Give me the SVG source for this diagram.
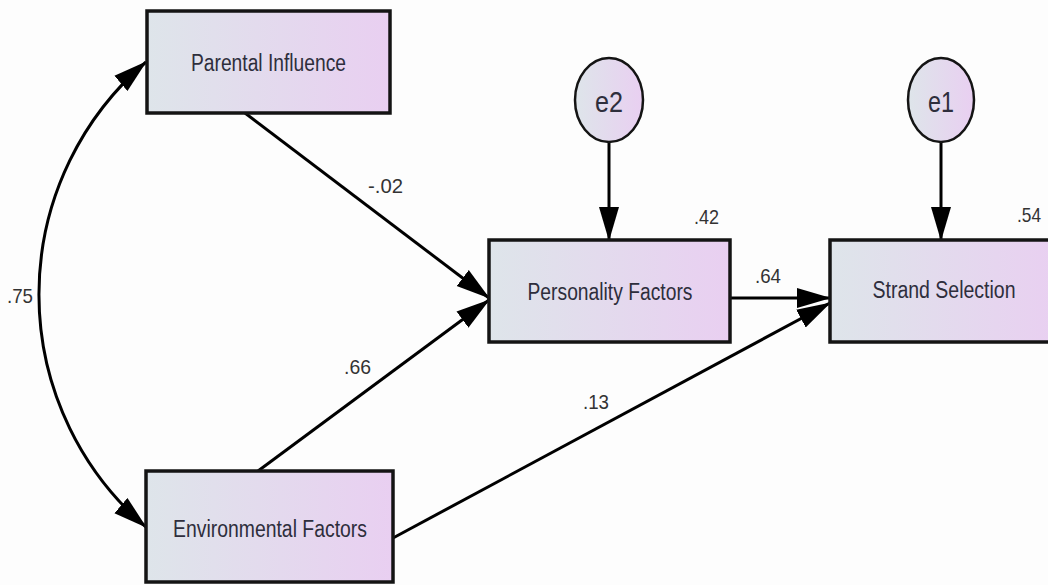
<svg xmlns="http://www.w3.org/2000/svg" width="1048" height="585" viewBox="0 0 1048 585">
  <defs>
    <linearGradient id="boxfill" x1="0" y1="0" x2="1" y2="0">
      <stop offset="0" stop-color="#dee5ea"/>
      <stop offset="1" stop-color="#e9cff1"/>
    </linearGradient>
    <marker id="arrow" markerUnits="userSpaceOnUse" markerWidth="34" markerHeight="22" refX="33" refY="11" orient="auto-start-reverse" viewBox="0 0 34 22">
      <path d="M0,1 L34,11 L0,21 z" fill="#000"/>
    </marker>
    <style>
      .box { fill: url(#boxfill); stroke: #141414; stroke-width: 3.5; }
      .err { fill: url(#boxfill); stroke: #141414; stroke-width: 2.5; }
      .node-text { font-family: "Liberation Sans", Arial, sans-serif; font-size: 23px; fill: #2e2e3c; text-anchor: middle; }
      .err-text { font-family: "Liberation Sans", Arial, sans-serif; font-size: 30px; fill: #2e2e3c; text-anchor: middle; }
      .label { font-family: "Liberation Sans", Arial, sans-serif; font-size: 21px; fill: #333; }
      .conn { fill: none; stroke: #000; stroke-width: 3; marker-end: url(#arrow); }
      .conn2 { fill: none; stroke: #000; stroke-width: 3; marker-end: url(#arrow); marker-start: url(#arrow); }
    </style>
  </defs>
  <rect width="1048" height="585" fill="#fdfdfd"/>

  <g id="connectors">
    <path class="conn2" d="M146,62 A306,306 0 0 0 146,527"/>
    <line class="conn" x1="245" y1="113" x2="489" y2="298"/>
    <line class="conn" x1="258" y1="471" x2="489" y2="300"/>
    <line class="conn" x1="730" y1="298" x2="830" y2="298"/>
    <line class="conn" x1="393" y1="538" x2="830" y2="303"/>
    <line class="conn" x1="609" y1="142" x2="609" y2="240"/>
    <line class="conn" x1="941" y1="142" x2="941" y2="240"/>
    <text class="label" x="7" y="303" textLength="26" lengthAdjust="spacingAndGlyphs">.75</text>
    <text class="label" x="368" y="193" textLength="35" lengthAdjust="spacingAndGlyphs">-.02</text>
    <text class="label" x="344" y="374" textLength="27" lengthAdjust="spacingAndGlyphs">.66</text>
    <text class="label" x="583" y="409" textLength="26" lengthAdjust="spacingAndGlyphs">.13</text>
    <text class="label" x="755" y="283" textLength="26" lengthAdjust="spacingAndGlyphs">.64</text>
  </g>

  <g id="parental-influence">
    <rect class="box" x="147" y="11" width="243" height="102"/>
    <text class="node-text" x="268.5" y="71" textLength="155" lengthAdjust="spacingAndGlyphs">Parental Influence</text>
  </g>

  <g id="environmental-factors">
    <rect class="box" x="146" y="471" width="247" height="111"/>
    <text class="node-text" x="270" y="537" textLength="194" lengthAdjust="spacingAndGlyphs">Environmental Factors</text>
  </g>

  <g id="personality-factors">
    <rect class="box" x="489" y="240" width="241" height="102"/>
    <text class="node-text" x="610" y="300" textLength="165" lengthAdjust="spacingAndGlyphs">Personality Factors</text>
    <text class="label" x="694" y="224" textLength="25" lengthAdjust="spacingAndGlyphs">.42</text>
  </g>

  <g id="strand-selection">
    <rect class="box" x="830" y="240" width="230" height="102"/>
    <text class="node-text" x="944" y="298" textLength="143" lengthAdjust="spacingAndGlyphs">Strand Selection</text>
    <text class="label" x="1017" y="222" textLength="24" lengthAdjust="spacingAndGlyphs">.54</text>
  </g>

  <g id="e2">
    <ellipse class="err" cx="609" cy="100" rx="34" ry="42"/>
    <text class="err-text" x="609" y="112" textLength="28" lengthAdjust="spacingAndGlyphs">e2</text>
  </g>

  <g id="e1">
    <ellipse class="err" cx="941" cy="100" rx="33" ry="42"/>
    <text class="err-text" x="941" y="112" textLength="26" lengthAdjust="spacingAndGlyphs">e1</text>
  </g>
</svg>
